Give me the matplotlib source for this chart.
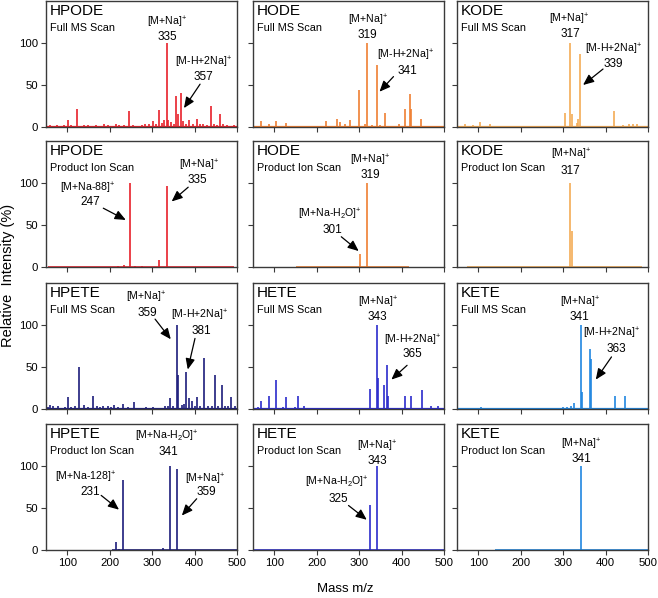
import matplotlib.pyplot as plt

plt.rcParams['font.family'] = ['Liberation Sans', 'DejaVu Sans']
plt.rcParams['mathtext.fontset'] = 'custom'
plt.rcParams['mathtext.rm'] = 'Liberation Sans'
plt.rcParams['mathtext.it'] = 'Liberation Sans:italic'

# compounds and scan types
compounds = [['HPODE', 'HODE', 'KODE'], ['HPODE', 'HODE', 'KODE'],
             ['HPETE', 'HETE', 'KETE'], ['HPETE', 'HETE', 'KETE']]
scans = ['Full MS Scan', 'Product Ion Scan', 'Full MS Scan', 'Product Ion Scan']
colors = [['#e8202a', '#ef7f32', '#f4ab55'], ['#e8202a', '#ef7f32', '#f4ab55'],
          ['#1d1d7c', '#2b2bcc', '#2086e0'], ['#1d1d7c', '#2b2bcc', '#2086e0']]

# peaks (m/z, relative intensity %)
hpode_full_mz = [55, 60, 68, 75, 84, 92, 103, 110, 123, 131, 140, 150, 158, 168, 178, 186, 195, 204,
                 214, 222, 233, 246, 255, 266, 275, 284, 293, 303, 309, 316, 323, 328, 335, 338, 345,
                 351, 357, 361, 367, 372, 380, 388, 397, 405, 413, 420, 430, 438, 446, 452, 460, 468,
                 476, 485, 494]
hpode_full_int = [1.5, 2, 1.5, 2, 1, 2, 8, 2, 21, 1.5, 2, 2, 1, 2, 1.5, 3, 2, 1.5,
                  4, 2, 2, 19, 2, 1.5, 2, 3, 4, 7.5, 3, 20, 5, 8, 100, 8, 6,
                  3, 37, 15, 41, 7, 4, 8, 3, 10, 4, 3, 2, 25, 3, 2, 15, 3,
                  2, 1.5, 2]
hode_full_mz = [55, 62, 68, 75, 87, 95, 105, 115, 127, 140, 160, 180, 200, 221, 235, 249, 255, 266,
                278, 290, 300, 313, 319, 330, 341, 350, 360, 372, 385, 395, 408, 421, 423, 435, 446,
                460, 475, 490]
hode_full_int = [1, 1, 7, 1, 3, 1, 7, 1, 5, 1, 0.5, 0.5, 0.5, 7.5, 1, 9.5, 6, 4,
                 8, 1, 44, 3, 100, 2, 73.5, 2, 16.5, 1, 1, 3.5, 21, 39, 22, 1, 9.5,
                 1, 0.5, 0.5]
kode_full_mz = [70, 87, 105, 128, 150, 200, 250, 280, 305, 317, 320, 332, 336, 339, 380, 421, 440,
                455, 465, 475]
kode_full_int = [4, 2, 6, 4, 1, 0.5, 0.5, 1, 17, 100, 15, 5, 10, 87, 1, 19, 2, 3, 3.5, 4]

hpode_prod_mz = [220, 234, 247, 260, 275, 317, 335]
hpode_prod_int = [1.5, 2.5, 100, 1, 0.8, 8, 96]
hode_prod_mz = [301, 319]
hode_prod_int = [15.5, 100]
kode_prod_mz = [317, 321]
kode_prod_int = [100, 43]

hpete_full_mz = [55, 60, 66, 72, 79, 88, 95, 101.5, 110, 118, 127.5, 139, 148, 160, 170, 178, 184.5,
                 196, 203, 210, 220, 232, 243, 257, 270, 285, 302, 315, 330, 337, 343, 350, 359,
                 362, 370, 375, 381, 387.7, 393, 400, 406, 414, 422, 431, 440, 448, 456, 464, 471,
                 478, 487, 495]
hpete_full_int = [2, 5, 3, 1.5, 3, 1, 2, 14, 2, 3, 50, 5, 2, 16, 4, 2, 3,
                  4, 2, 4.5, 2, 6, 2, 8, 1.5, 2, 2, 1.5, 3, 4, 13.5, 4, 100,
                  40, 5, 6, 44, 13.5, 10, 4, 14.7, 4, 60.7, 4, 3, 40, 3, 28, 3,
                  4, 14, 3]
hete_full_mz = [62, 68.4, 75, 87, 95, 105, 120, 127, 140, 149, 156, 170, 200, 253, 303, 325, 343,
                345.5, 359, 365, 367, 386, 408, 422, 448, 469, 485]
hete_full_int = [2, 10, 1, 15, 1, 35, 2, 14, 1, 2, 15.5, 4, 0.5, 1, 1, 23.5, 100,
                 37, 28.5, 52, 15, 1, 15.5, 16, 22.6, 3, 3]
kete_full_mz = [105.5, 150, 200, 250, 280, 300, 310, 318, 325, 341, 345, 363, 366, 400, 421.5, 445,
                480]
kete_full_int = [2, 0.5, 0.5, 1, 1.5, 2, 2.5, 3, 7, 100, 20, 71, 60, 1, 15, 15, 0.5]

hpete_prod_mz = [213.8, 222, 231, 260, 324.5, 341, 359]
hpete_prod_int = [9, 1, 83.5, 0.5, 2, 100, 97]
hete_prod_mz = [325, 343]
hete_prod_int = [53, 100]
kete_prod_mz = [341]
kete_prod_int = [100]

peaks = [[(hpode_full_mz, hpode_full_int), (hode_full_mz, hode_full_int), (kode_full_mz, kode_full_int)],
         [(hpode_prod_mz, hpode_prod_int), (hode_prod_mz, hode_prod_int), (kode_prod_mz, kode_prod_int)],
         [(hpete_full_mz, hpete_full_int), (hete_full_mz, hete_full_int), (kete_full_mz, kete_full_int)],
         [(hpete_prod_mz, hpete_prod_int), (hete_prod_mz, hete_prod_int), (kete_prod_mz, kete_prod_int)]]

# acquired m/z range of each trace (baseline)
scan_ranges = [[(50, 500), (50, 500), (50, 500)],
               [(54, 493), (152, 418), (74, 485)],
               [(50, 500), (50, 500), (50, 500)],
               [(205, 500), (50, 500), (140, 500)]]

NA = '[M+Na]$^{+}$'
NA2 = '[M-H+2Na]$^{+}$'
H2O = '[M+Na-H$_{2}$O]$^{+}$'

ion_labels = [[[(NA, '335'), (NA2, '357')], [(NA, '319'), (NA2, '341')], [(NA, '317'), (NA2, '339')]],
              [[('[M+Na-88]$^{+}$', '247'), (NA, '335')], [(NA, '319'), (H2O, '301')], [(NA, '317')]],
              [[(NA, '359'), (NA2, '381')], [(NA, '343'), (NA2, '365')], [(NA, '341'), (NA2, '363')]],
              [[(H2O, '341'), ('[M+Na-128]$^{+}$', '231'), (NA, '359')], [(NA, '343'), (H2O, '325')],
               [(NA, '341')]]]

# label layout: (label xy, number xy, arrow tail, arrow head) in data coords
layout = [[[((335, 124), (335, 107), None, None), ((422, 77.5), (422, 60), (413, 51), (375, 22.5))],
           [((320, 127), (320, 110), None, None), ((409, 85), (413, 67), (381, 60), (348, 42))],
           [((314, 128), (318, 111), None, None), ((418, 92), (418, 75.5), (394, 69), (347, 50))]],
          [[((147, 94), (154, 77), (185, 70), (238, 56)), ((411, 121), (406, 104), (385, 95), (346, 78))],
           [((325, 126.5), (326, 109.5), None, None), ((232, 63), (236, 44), (258, 36), (299, 19))],
           [((318, 134), (318, 114), None, None)]],
          [[((285, 133), (289, 114.5), (307, 107), (344, 83)), ((411, 112), (417, 93), (401, 84), (384, 47))],
           [((344, 126.5), (344, 110), None, None), ((425, 82), (425, 65.5), (413, 52), (376, 35))],
           [((339, 126.5), (339, 109), None, None), ((414, 90), (426, 71), (414, 62), (377, 35))]],
          [[((334, 135), (338, 117), None, None), ((144, 86), (154, 69), (180, 65), (222, 48)),
            ((425, 84), (427, 68.5), (405, 61), (370, 41))],
           [((342, 123.5), (343, 106), None, None), ((248, 80), (252, 61), (275, 53), (318, 36))],
           [((343, 125.5), (343, 108), None, None)]]]

fig = plt.figure(figsize=(6.58, 5.98), dpi=100)

lefts = [46 / 658, 253 / 658, 457 / 658]
bottoms = [1 - 127 / 598, 1 - 267 / 598, 1 - 409 / 598, 1 - 550 / 598]
w, h = 191 / 658, 126 / 598
spine_c = '#3a3a3a'

for r in range(4):
    for c in range(3):
        ax = fig.add_axes([lefts[c], bottoms[r], w, h])
        col = colors[r][c]
        mz, inten = peaks[r][c]
        lo, hi = scan_ranges[r][c]
        base_lw = 1.6 if r in (0, 2) else 1.2
        ax.hlines(0.5, lo, hi, color=col, lw=base_lw)
        ax.vlines(mz, 0, inten, color=col, lw=1.2)

        ax.set_xlim(50, 500)
        ax.set_ylim(0, 150)
        ax.set_xticks([100, 200, 300, 400, 500])
        ax.set_yticks([0, 50, 100])
        ax.tick_params(direction='out', length=3.5, width=0.8, color=spine_c,
                       labelsize=8.2, pad=2)
        if c != 0:
            ax.set_yticklabels([])
        if r != 3:
            ax.set_xticklabels([])
        for s in ax.spines.values():
            s.set_color(spine_c)
            s.set_linewidth(1.0)

        ax.text(0.02, 0.975, compounds[r][c], transform=ax.transAxes, ha='left', va='top',
                fontsize=11)
        ax.text(0.02, 0.825, scans[r], transform=ax.transAxes, ha='left', va='top',
                fontsize=7.8)

        for (lab, num), (lxy, nxy, tail, head) in zip(ion_labels[r][c], layout[r][c]):
            ax.text(lxy[0], lxy[1], lab, ha='center', va='center', fontsize=7.6)
            ax.text(nxy[0], nxy[1], num, ha='center', va='center', fontsize=8.5)
            if tail is not None:
                ax.annotate('', xy=head, xytext=tail,
                            arrowprops=dict(arrowstyle='-|>,head_length=0.65,head_width=0.28',
                                            color='black', lw=0.9, shrinkA=0, shrinkB=0,
                                            mutation_scale=10))

fig.text(8 / 658, 1 - 275 / 598, 'Relative  Intensity (%)', rotation=90,
         ha='center', va='center', fontsize=10.5)
fig.text(345 / 658, 1 - 589 / 598, 'Mass m/z', ha='center', va='center', fontsize=9.5)

fig.savefig('out.png', dpi=100)
